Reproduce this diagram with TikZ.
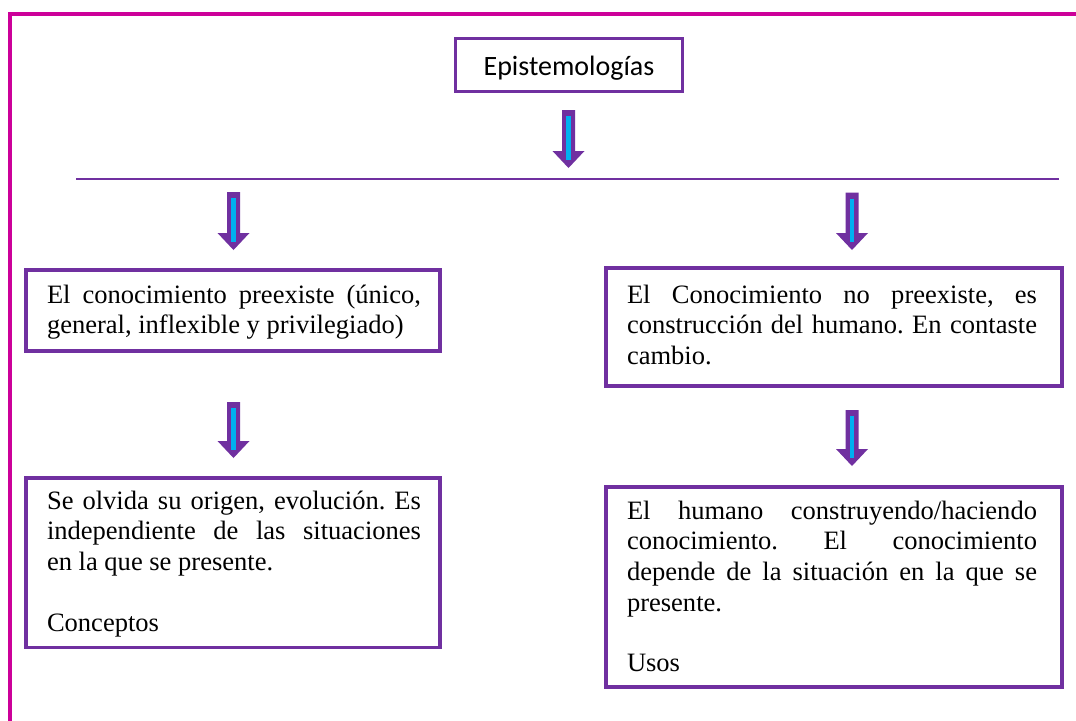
\documentclass[tikz,border=0pt]{standalone}
\usepackage{fontspec}
\setmainfont{Liberation Serif}
\newfontfamily\calib{Carlito}
\definecolor{mag}{RGB}{204,0,153}
\definecolor{purp}{RGB}{112,48,160}
\definecolor{cyanb}{RGB}{0,176,240}
\hbadness=10000
\hfuzz=20pt
\newdimen\tw
\newcommand\mystrut{\vrule width0pt height15.49pt depth6.64pt}
\newcommand\jline[1]{\hbox to\tw{\mystrut #1}}
\newcommand\lline[1]{\hbox to\tw{\mystrut #1\hfil}}
\newcommand\blankline{\vskip22.125pt}
\newcommand\purplearrow[3]{%
  \fill[purp] ({#1-6.5},{#2}) -- ({#1+6.5},{#2}) -- ({#1+6.5},{#3-17}) -- ({#1+16},{#3-17})
     -- ({#1},{#3}) -- ({#1-16},{#3-17}) -- ({#1-6.5},{#3-17}) -- cycle;
  \draw[cyanb, line width=3.3pt] ({#1},{#2+6}) -- ({#1},{#3-8});}
\tikzset{
  boxst/.style={draw=purp, line width=2.6pt, rectangle, inner sep=0pt, outer sep=0pt, anchor=north west},
  txt/.style={inner sep=0pt, outer sep=0pt, anchor=north west,
    font=\fontsize{19.9pt}{22.125pt}\selectfont\frenchspacing},
}
\begin{document}
\begin{tikzpicture}[x=0.75pt, y=-0.75pt]
\useasboundingbox (0,0) rectangle (1076,721);
\fill[white] (0,0) rectangle (1076,721);
% frame
\draw[mag, line width=3pt] (10,721) -- (10,13.5) -- (1076,13.5);
% title
\node[draw=purp, line width=2.25pt, minimum width=170.25pt, minimum height=40pt,
  inner sep=0pt, text height=17pt, text depth=2pt,
  font=\calib\fontsize{21pt}{25pt}\selectfont] (epi) at (569,65) {Epistemologías};
% top arrow and line
\purplearrow{568.5}{110}{168}
\coordinate (hl) at (76,179);
\coordinate (hr) at (1059,179);
\draw[purp, line width=1.9pt] (hl) -- (hr);
% arrows below line
\purplearrow{233.5}{192}{250}
\purplearrow{852}{192.5}{250}
\purplearrow{233.5}{402}{458}
\purplearrow{852}{410}{466}
% boxes
\node[boxst, minimum width=310.5pt, minimum height=60.75pt] (b1) at (26,270) {};
\node[boxst, minimum width=310.5pt, minimum height=127.1pt] (b2) at (26,478) {};
\node[boxst, minimum width=342pt, minimum height=88.5pt] (b3) at (606,268) {};
\node[boxst, minimum width=342pt, minimum height=150pt] (b4) at (606,487) {};
% texts
\node[txt] (t1) at (47,{303-20.65}) {\vbox{\tw=280.5pt
\jline{El conocimiento preexiste (único,}
\lline{general, inflexible y privilegiado)}}};
\node[txt] (t2) at (47,{509-20.65}) {\vbox{\tw=280.5pt
\jline{Se olvida su origen, evolución. Es}
\jline{independiente de las situaciones}
\lline{en la que se presente.}
\blankline
\lline{Conceptos}}};
\node[txt] (t3) at (627,{303-20.65}) {\vbox{\tw=307.5pt
\jline{El Conocimiento no preexiste, es}
\jline{construcción del humano. En contaste}
\lline{cambio.}}};
\node[txt] (t4) at (627,{519-20.65}) {\vbox{\tw=307.5pt
\jline{El humano construyendo/haciendo}
\jline{conocimiento. El conocimiento}
\jline{depende de la situación en la que se}
\lline{presente.}
\blankline
\lline{Usos}}};
\end{tikzpicture}
\end{document}
